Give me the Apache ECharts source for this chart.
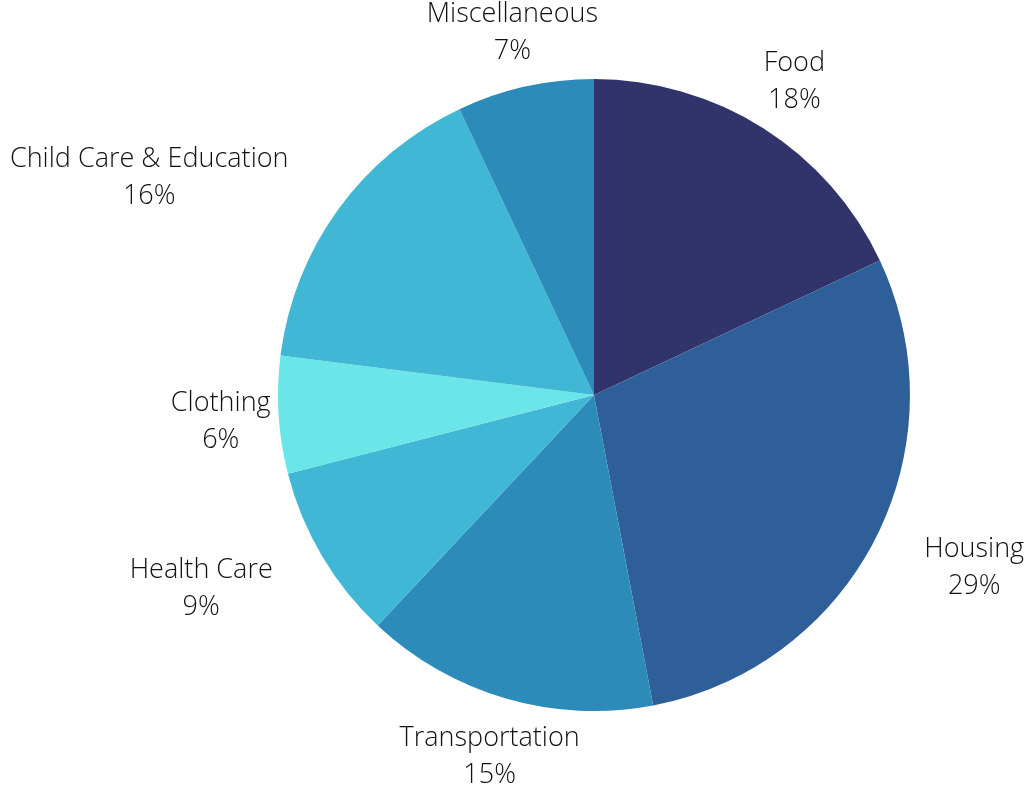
<!DOCTYPE html>
<html>
<head>
<meta charset="utf-8">
<script src="https://cdn.jsdelivr.net/npm/echarts@6/dist/echarts.min.js"></script>
<style>
  html, body { margin: 0; padding: 0; background: #fff; }
  #main { width: 1033px; height: 787px; }
</style>
</head>
<body>
<div id="main"></div>
<script>
// Chart data
const categories = ["Food", "Housing", "Transportation", "Health Care", "Clothing", "Child Care & Education", "Miscellaneous"];
const shares = [18, 29, 15, 9, 6, 16, 7];
const sliceColors = ["#31346b", "#2f5f98", "#2d8bba", "#41b7d6", "#6ae5e8", "#41b7d6", "#2d8bba"];

var myChart = echarts.init(document.getElementById("main"));

const centerPct = [0.575, 0.502];
const radiusPct = 0.803;

// mid angle of each slice (clockwise from 12 o'clock)
const total = shares.reduce((a, b) => a + b, 0);
let acc = 0;
const midAngles = shares.map((v) => {
  let mid = (acc + v / 2) / total * Math.PI * 2;
  acc += v;
  return mid;
});

// labels sit on a ring outside the pie; side labels get pushed out
// horizontally so their nearest corner keeps clear of the pie
function placeLabel(params) {
  let w = myChart.getWidth();
  let h = myChart.getHeight();
  let cx = w * centerPct[0];
  let cy = h * centerPct[1];
  let r = Math.min(w, h) / 2 * radiusPct;
  let a = midAngles[params.dataIndex];
  let ux = Math.sin(a);
  let uy = -Math.cos(a);
  let bw = params.labelRect.width;
  let bh = params.labelRect.height;
  let x = cx + ux * (r + 58);
  let y = cy + uy * (r + 58);
  let dy = Math.abs(y - cy) - bh / 2;
  if (Math.abs(ux) > Math.abs(uy) && dy > 0) {
    let clear = r + 40;
    let dx = Math.sqrt(Math.max(clear * clear - dy * dy, 0)) + bw / 2;
    if (dx > Math.abs(x - cx)) x = cx + Math.sign(ux) * dx;
  }
  return { x: x, y: y + 3, align: "center", verticalAlign: "middle" };
}

var option = {
  animation: false,
  textStyle: {
    fontFamily: "Open Sans",
  },
  series: [
    {
      type: "pie",
      center: [centerPct[0] * 100 + "%", centerPct[1] * 100 + "%"],
      radius: radiusPct * 100 + "%",
      startAngle: 90,
      clockwise: true,
      data: categories.map((c, i) => ({
        name: c,
        value: shares[i],
        itemStyle: { color: sliceColors[i] },
      })),
      itemStyle: {
        borderWidth: 0,
      },
      label: {
        show: true,
        position: "outside",
        formatter: "{b}\n{c}%",
        fontFamily: "Open Sans",
        fontWeight: 300,
        fontSize: 27,
        lineHeight: 37,
        color: "#111111",
        align: "center",
        overflow: "none",
      },
      labelLine: { show: false },
      labelLayout: placeLabel,
      emphasis: { disabled: true },
    },
  ],
};

myChart.setOption(option);
</script>
</body>
</html>
